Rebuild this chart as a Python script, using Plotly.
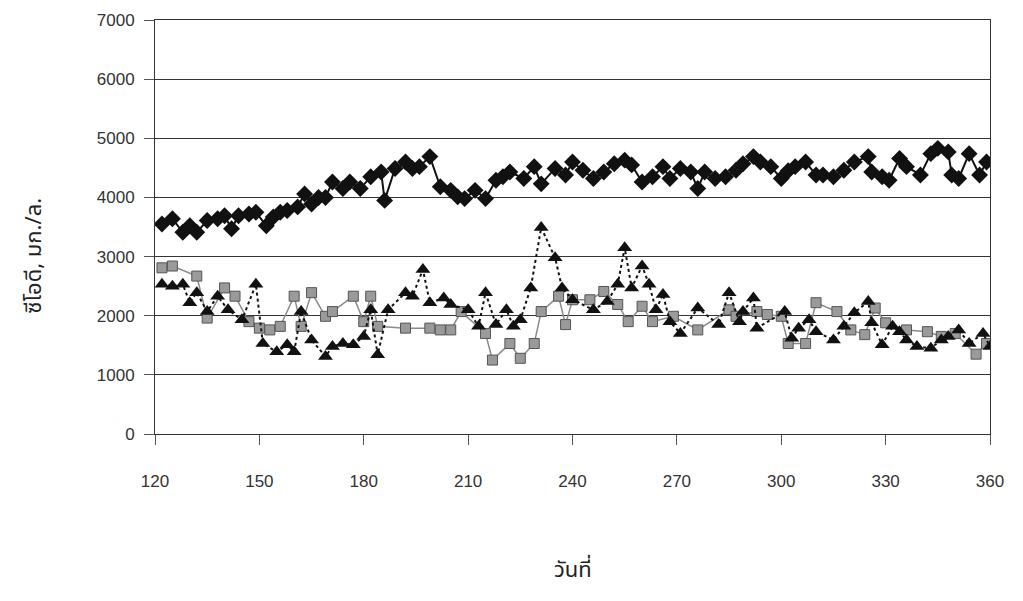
import plotly.graph_objects as go

# --- data ---
days_diamond = [122, 125, 128, 130, 132, 135, 138, 140, 142, 144, 147, 149, 152, 154, 156, 158,
                161, 163, 165, 167, 169, 171, 174, 176, 179, 182, 185, 186, 189, 192, 194, 196,
                199, 202, 205, 207, 209, 212, 215, 218, 220, 222, 226, 229, 231, 235, 238, 240,
                243, 246, 249, 252, 255, 257, 260, 263, 266, 268, 271, 274, 276, 278, 281, 284,
                287, 289, 292, 294, 297, 300, 302, 304, 307, 310, 312, 315, 318, 321, 325, 326,
                329, 331, 334, 336, 340, 343, 345, 348, 349, 351, 354, 357, 359]
cod_diamond = [3550, 3640, 3410, 3520, 3410, 3610, 3640, 3690, 3470, 3690, 3720, 3750, 3520, 3670, 3750, 3780,
               3840, 4060, 3890, 4000, 4000, 4260, 4150, 4260, 4150, 4350, 4430, 3950, 4490, 4600, 4490, 4520,
               4690, 4180, 4120, 4010, 3980, 4120, 3980, 4290, 4350, 4430, 4320, 4520, 4230, 4490, 4380, 4600,
               4460, 4320, 4430, 4570, 4630, 4550, 4260, 4350, 4520, 4320, 4490, 4430, 4150, 4430, 4320, 4350,
               4460, 4570, 4690, 4600, 4520, 4320, 4450, 4520, 4600, 4380, 4380, 4350, 4460, 4600, 4690, 4430,
               4350, 4290, 4660, 4520, 4380, 4740, 4830, 4770, 4380, 4320, 4740, 4380, 4600]

days_square = [122, 125, 132, 135, 140, 143, 147, 150, 153, 156, 160, 162, 165, 169, 171, 177, 180,
               182, 184, 192, 199, 202, 205, 208, 215, 217, 222, 225, 229, 231, 236, 238, 240, 245,
               249, 253, 256, 260, 263, 269, 276, 285, 287, 293, 296, 300, 302, 307, 310, 316, 320,
               324, 327, 330, 336, 342, 346, 350, 356, 359]
cod_square = [2810, 2840, 2670, 1960, 2470, 2330, 1900, 1790, 1760, 1820, 2330, 1820, 2390, 1990, 2070, 2330, 1900,
              2330, 1820, 1790, 1790, 1760, 1760, 2070, 1700, 1250, 1530, 1280, 1530, 2070, 2330, 1850, 2270, 2270,
              2410, 2190, 1900, 2160, 1900, 1990, 1760, 2100, 1990, 2070, 2020, 1990, 1530, 1530, 2220, 2070, 1760,
              1680, 2130, 1880, 1760, 1730, 1650, 1700, 1350, 1530]

days_triangle = [122, 125, 128, 130, 132, 135, 138, 141, 145, 149, 151, 155, 158, 160, 162, 165, 169,
                 171, 174, 177, 180, 182, 184, 187, 192, 194, 197, 199, 203, 205, 210, 213, 215, 218,
                 221, 223, 225, 228, 231, 235, 237, 240, 246, 250, 253, 255, 257, 260, 262, 264, 266,
                 268, 271, 276, 282, 285, 288, 289, 292, 293, 301, 303, 305, 308, 310, 315, 318, 321,
                 325, 326, 329, 332, 334, 336, 339, 343, 346, 348, 351, 354, 358, 360]
cod_triangle = [2530, 2500, 2530, 2220, 2390, 2070, 2330, 2100, 1930, 2530, 1530, 1390, 1510, 1390, 2070, 1590, 1310,
                1480, 1530, 1510, 1650, 2100, 1340, 2100, 2390, 2330, 2780, 2220, 2300, 2190, 2100, 1820, 2390, 1850,
                2100, 1820, 1930, 2470, 3490, 2980, 2470, 2270, 2100, 2240, 2530, 3150, 2470, 2840, 2530, 2100, 2360,
                1900, 1700, 2130, 1850, 2390, 1900, 2070, 2300, 1790, 2070, 1620, 1790, 1930, 1730, 1590, 1820, 2050,
                2240, 1880, 1510, 1820, 1730, 1590, 1480, 1450, 1590, 1650, 1760, 1530, 1700, 1480]

x_ticks = [120, 150, 180, 210, 240, 270, 300, 330, 360]
y_ticks = [0, 1000, 2000, 3000, 4000, 5000, 6000, 7000]

x_title = "วันที่"
y_title = "ซีโอดี, มก./ล."

TICK_FONT = dict(family="Liberation Sans, Arial, sans-serif", size=17, color="#333333")
THAI_FONT = "Noto Sans Thai, Loma, Garuda, Tlwg Typo, Noto Sans, sans-serif"

fig = go.Figure()

fig.add_trace(go.Scatter(
    x=days_diamond, y=cod_diamond, mode="lines+markers",
    line=dict(color="#111111", width=2),
    marker=dict(symbol="diamond", size=13, color="#111111"),
    showlegend=False,
))
fig.add_trace(go.Scatter(
    x=days_square, y=cod_square, mode="lines+markers",
    line=dict(color="#8a8a8a", width=1.5),
    marker=dict(symbol="square", size=10, color="#9a9a9a", line=dict(color="#555555", width=1)),
    showlegend=False,
))
fig.add_trace(go.Scatter(
    x=days_triangle, y=cod_triangle, mode="lines+markers",
    line=dict(color="#111111", width=2, dash="dot"),
    marker=dict(symbol="triangle-up", size=13, color="#111111"),
    showlegend=False,
))

fig.update_layout(
    width=1023, height=601,
    margin=dict(l=155, r=33, t=20, b=167),
    paper_bgcolor="white", plot_bgcolor="white",
    xaxis=dict(
        range=[120, 360], tickvals=x_ticks, ticktext=[str(v) for v in x_ticks],
        showgrid=False, zeroline=False,
        showline=True, linecolor="#333333", linewidth=1, mirror=True,
        ticks="outside", ticklen=10, tickcolor="#555555",
        ticklabelstandoff=22, tickfont=TICK_FONT,
    ),
    yaxis=dict(
        range=[0, 7000], tickvals=y_ticks, ticktext=[str(v) for v in y_ticks],
        showgrid=True, gridcolor="#333333", gridwidth=1, zeroline=False,
        showline=True, linecolor="#333333", linewidth=1, mirror=True,
        ticks="outside", ticklen=10, tickcolor="#555555",
        ticklabelstandoff=6, tickfont=TICK_FONT,
    ),
    annotations=[
        dict(text=x_title, xref="paper", yref="paper", x=0.5, y=-0.33, yanchor="middle",
             showarrow=False, font=dict(family=THAI_FONT, size=22, color="#222222")),
        dict(text=y_title, xref="paper", yref="paper", x=-0.144, y=0.43, xanchor="center",
             yanchor="middle", textangle=-90,
             showarrow=False, font=dict(family=THAI_FONT, size=22, color="#222222")),
    ],
)

fig.write_html("out.html")
